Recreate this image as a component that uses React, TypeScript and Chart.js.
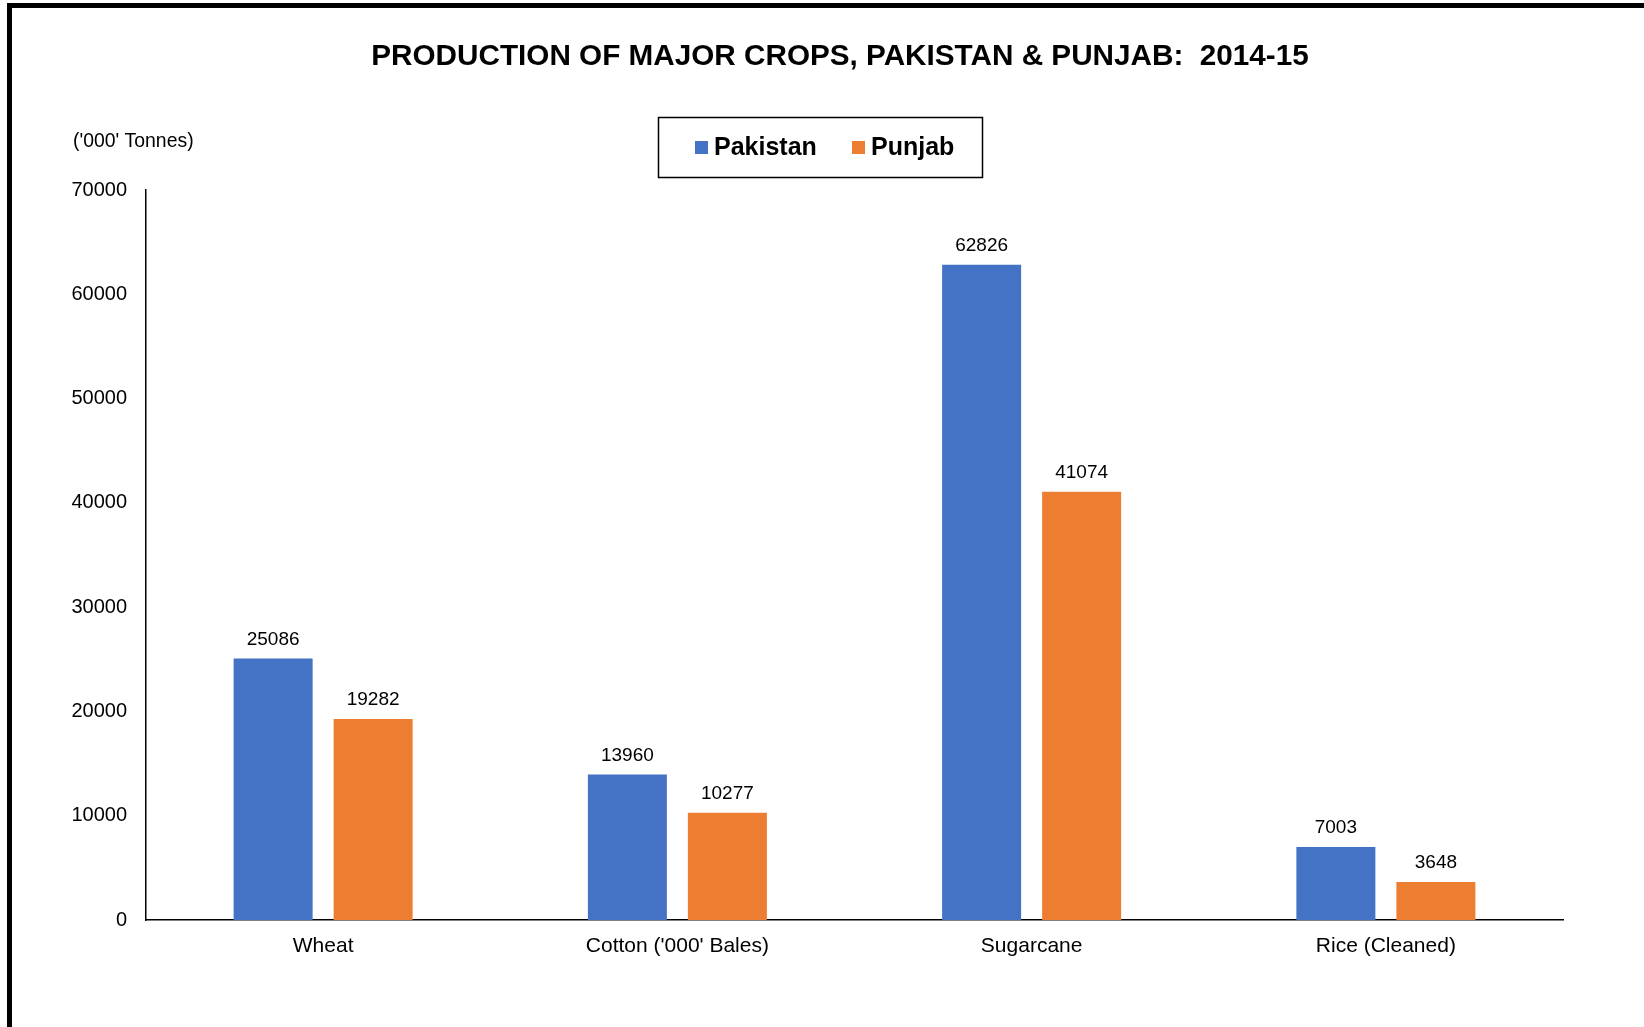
import React, { useEffect, useRef } from "react";
import { Chart, registerables } from "chart.js";

Chart.register(...registerables);

const categories = ["Wheat", "Cotton ('000' Bales)", "Sugarcane", "Rice (Cleaned)"];
const seriesNames = ["Pakistan", "Punjab"];
const pakistanValues = [25086, 13960, 62826, 7003];
const punjabValues = [19282, 10277, 41074, 3648];
const seriesColors = ["#4472C4", "#ED7D31"];
const titleText = "PRODUCTION OF MAJOR CROPS, PAKISTAN & PUNJAB:  2014-15";
const unitText = "('000' Tonnes)";
const yMax = 70000;
const yStep = 10000;

const FONT = "'Liberation Sans', Arial, sans-serif";

const decorPlugin = {
  id: "decor",
  afterDraw(chart: any) {
    const ctx = chart.ctx;
    ctx.save();
    // outer frame
    ctx.fillStyle = "#000";
    ctx.fillRect(7, 3, 5, 1027);
    ctx.fillRect(7, 3, 1644, 5);

    // title
    ctx.fillStyle = "#000";
    ctx.font = `bold 29.7px ${FONT}`;
    ctx.textAlign = "center";
    ctx.textBaseline = "middle";
    ctx.fillText(titleText, 840, 57);

    // unit label
    ctx.font = `19.4px ${FONT}`;
    ctx.textAlign = "left";
    ctx.fillText(unitText, 73, 142);

    // legend box
    ctx.strokeStyle = "#000";
    ctx.lineWidth = 1.5;
    ctx.strokeRect(658.5, 117.5, 324, 60);
    ctx.font = `bold 25px ${FONT}`;
    ctx.textBaseline = "middle";
    const itemX = [695, 852];
    chart.data.datasets.forEach((ds: any, i: number) => {
      ctx.fillStyle = ds.backgroundColor;
      ctx.fillRect(itemX[i], 141, 13, 13);
      ctx.fillStyle = "#000";
      ctx.fillText(ds.label, itemX[i] + 19, 148);
    });

    // data labels
    ctx.font = `19px ${FONT}`;
    ctx.textAlign = "center";
    ctx.textBaseline = "middle";
    ctx.fillStyle = "#000";
    chart.data.datasets.forEach((ds: any, i: number) => {
      const meta = chart.getDatasetMeta(i);
      meta.data.forEach((bar: any, j: number) => {
        ctx.fillText(String(ds.data[j]), bar.x, bar.y - 19);
      });
    });
    ctx.restore();
  },
};

export default function App() {
  const ref = useRef<HTMLCanvasElement>(null);
  useEffect(() => {
    if (!ref.current) return;
    const chart = new Chart(ref.current, {
      type: "bar",
      data: {
        labels: categories,
        datasets: [
          { label: seriesNames[0], data: pakistanValues, backgroundColor: seriesColors[0] },
          { label: seriesNames[1], data: punjabValues, backgroundColor: seriesColors[1] },
        ],
      },
      options: {
        responsive: false,
        animation: false,
        events: [],
        layout: { padding: { top: 190, right: 81, bottom: 0, left: 0 } },
        datasets: {
          bar: { categoryPercentage: 0.5646, barPercentage: 0.79 },
        },
        plugins: {
          legend: { display: false },
          title: { display: false },
          tooltip: { enabled: false },
        },
        scales: {
          x: {
            grid: { display: false, drawTicks: false },
            border: { display: true, color: "#000", width: 1.5 },
            ticks: { color: "#000", font: { family: FONT, size: 21 }, padding: 14, maxRotation: 0 },
            afterFit: (s: any) => { s.height = 107; },
          },
          y: {
            min: 0,
            max: yMax,
            grid: { display: false, drawTicks: false },
            border: { display: true, color: "#000", width: 1.5 },
            ticks: {
              stepSize: yStep,
              color: "#000",
              font: { family: FONT, size: 20 },
              padding: 19,
              callback: (v: any) => String(v),
            },
            afterFit: (s: any) => { s.width = 146; },
          },
        },
      },
      plugins: [decorPlugin],
    });
    return () => chart.destroy();
  }, []);
  return (
    <div style={{ position: "absolute", left: 0, top: 0, width: 1644, height: 1027, overflow: "hidden", background: "#fff" }}>
      <canvas ref={ref} width={1644} height={1027} style={{ width: 1644, height: 1027, display: "block" }} />
    </div>
  );
}
